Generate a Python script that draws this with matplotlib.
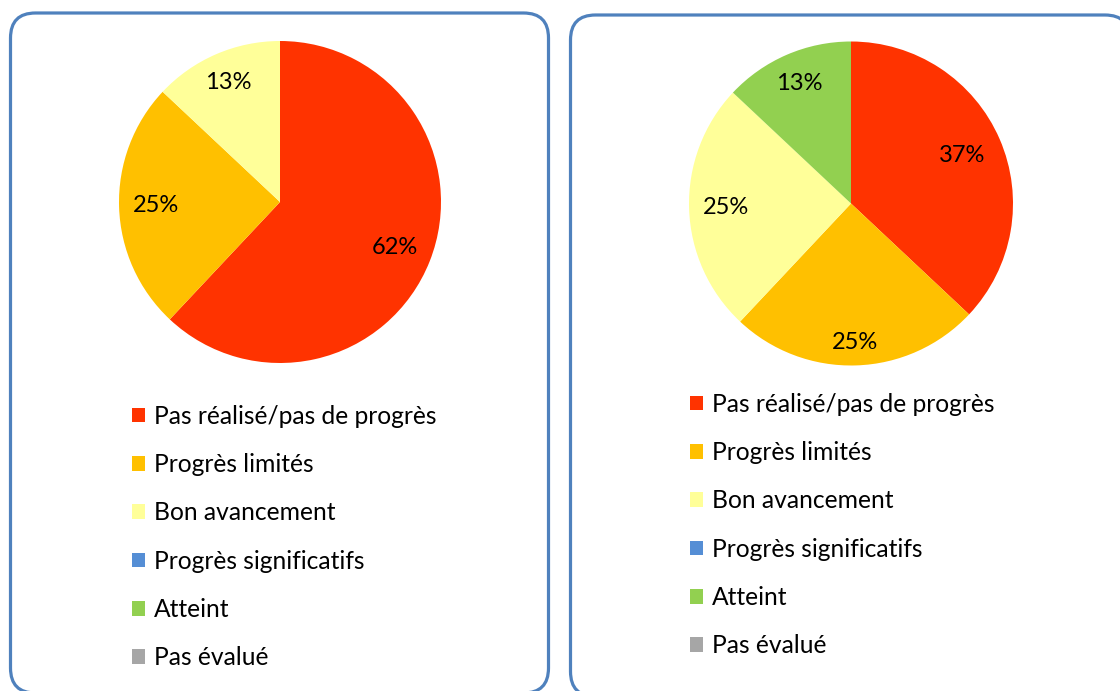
import matplotlib
matplotlib.use("Agg")
import numpy as np
import matplotlib.pyplot as plt
from matplotlib.patches import FancyBboxPatch

plt.rcParams['font.family'] = ['Lato', 'DejaVu Sans']

categories = ["Pas réalisé/pas de progrès", "Progrès limités", "Bon avancement",
              "Progrès significatifs", "Atteint", "Pas évalué"]
colors = ["#FF3300", "#FFC000", "#FFFF99", "#558ED5", "#92D050", "#A6A6A6"]
left_values = [62, 25, 13, 0, 0, 0]
right_values = [37, 25, 25, 0, 13, 0]

# per-wedge label distance (fraction of radius), style only
left_label_dist = [0.77, 0.77, 0.81, 0.8, 0.8, 0.8]
right_label_dist = [0.75, 0.86, 0.77, 0.8, 0.81, 0.8]

W, H = 1120, 691
fig = plt.figure(figsize=(W / 100, H / 100), dpi=100)

# background axes in pixel coordinates for the rounded frames
bg = fig.add_axes([0, 0, 1, 1])
bg.set_xlim(0, W)
bg.set_ylim(H, 0)
bg.axis('off')
for (x0, y0, x1, y1) in [(10.5, 13, 548.5, 693), (570.5, 15, 1130, 696.5)]:
    bg.add_patch(FancyBboxPatch((x0, y0), x1 - x0, y1 - y0,
                                boxstyle="round,pad=0,rounding_size=25",
                                facecolor="white", edgecolor="#4F81BD",
                                linewidth=2.3, clip_on=False))


def fmt(p):
    return f"{p:.0f}%" if p > 0 else ""


def draw_pie(values, dists, cx, cy, r, legend_x, legend_cy):
    ax = fig.add_axes([(cx - r) / W, 1 - (cy + r) / H, 2 * r / W, 2 * r / H])
    wedges, texts, autotexts = ax.pie(values, colors=colors, startangle=90,
                                      counterclock=False, autopct=fmt,
                                      pctdistance=0.75,
                                      textprops=dict(fontsize=17, color='black'))
    for w, t, d in zip(wedges, autotexts, dists):
        ang = np.deg2rad((w.theta1 + w.theta2) / 2)
        t.set_position((d * np.cos(ang), d * np.sin(ang)))
    ax.set_xlim(-1, 1)
    ax.set_ylim(-1, 1)
    ax.axis('off')
    fig.legend(wedges, categories, loc='center left',
               bbox_to_anchor=(legend_x / W, 1 - legend_cy / H),
               frameon=False, fontsize=17.7, borderpad=0, borderaxespad=0,
               handlelength=0.53, handleheight=0.53, handletextpad=0.37,
               labelspacing=1.03)


draw_pie(left_values, left_label_dist, 280, 202, 161, 132, 537)
draw_pie(right_values, right_label_dist, 851, 203.5, 162, 690, 525)

fig.savefig("out.png", dpi=100)
